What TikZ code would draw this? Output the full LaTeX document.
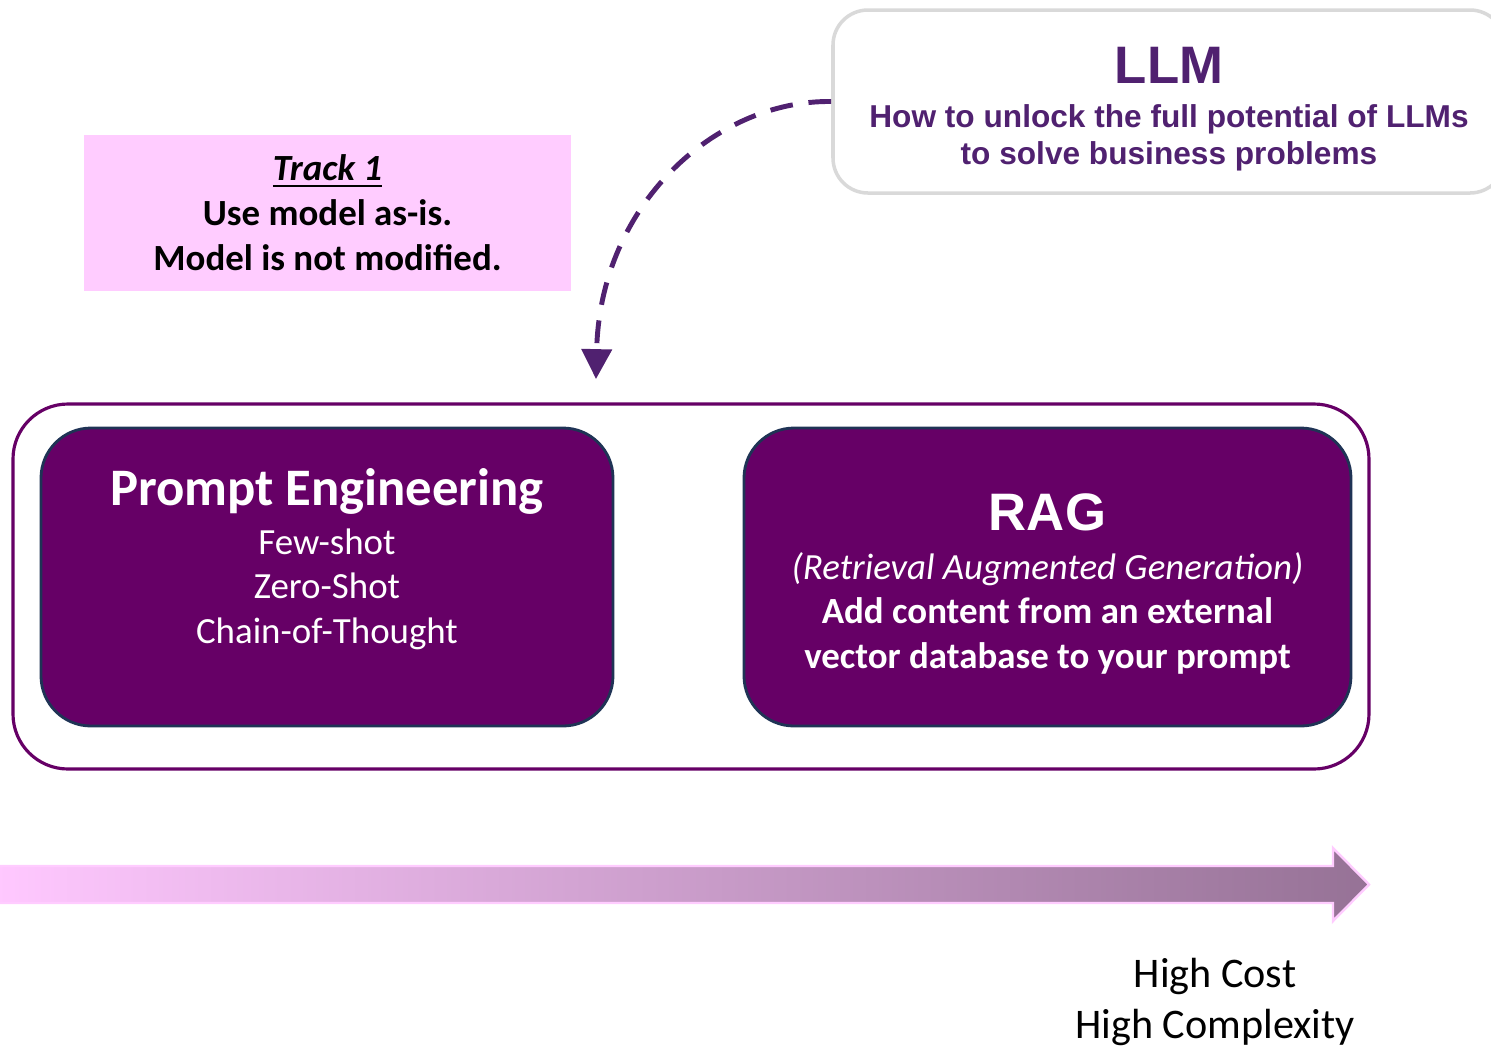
\documentclass[tikz,border=0pt]{standalone}
\usepackage{fontspec}
\setmainfont{Carlito}
\newfontfamily\arialfont{Liberation Sans}
\usepackage{tikz}
\usetikzlibrary{positioning,arrows.meta}

\definecolor{plum}{HTML}{660066}
\definecolor{navyedge}{HTML}{1F3355}
\definecolor{llmpurple}{RGB}{80,33,112}
\definecolor{lightgrey}{HTML}{D9D9D9}
\definecolor{pinkfill}{HTML}{FFCCFF}
\definecolor{pinkstart}{RGB}{255,200,255}
\definecolor{mauve}{RGB}{150,114,150}

\begin{document}
\begin{tikzpicture}[
every node/.style={align=center},
techbox/.style={
draw=navyedge,
line width=0.8pt,
fill=plum,
rounded corners=0.5cm,
text=white,
minimum height=2.98cm,
font=\fontsize{10.5}{12.7}\selectfont
},
dasharrow/.style={
-{Triangle[width=8.5pt,length=8.5pt]},
llmpurple,
line width=1.4pt,
dash pattern=on 6.5pt off 4.5pt
}
]

\useasboundingbox (0,0) rectangle (14.91,-10.47);

% Top Row
\node[
draw=lightgrey,
line width=1pt,
rounded corners=0.35cm,
minimum width=6.72cm,
minimum height=1.83cm,
text=llmpurple,
font=\arialfont\bfseries\fontsize{9}{10.5}\selectfont
] (llm) at (11.69,-1.015)
{{\fontsize{15}{18}\selectfont\rule{0pt}{14.7pt}LLM}\\[2pt]
How to unlock the full potential of LLMs\\
to solve business problems};

\node[
fill=pinkfill,
minimum width=4.87cm,
minimum height=1.56cm,
font=\bfseries\fontsize{10.5}{12.8}\selectfont
] (track) at (3.275,-2.13)
{\underline{\textit{Track 1}}\\
Use model as-is.\\
Model is not modified.};

\coordinate (tip) at (5.96,-3.79);

% Middle Row
\node[
draw=plum,
line width=0.9pt,
rounded corners=0.55cm,
minimum width=13.56cm,
minimum height=3.65cm
] (frame) at (6.91,-5.865) {};

\node[
techbox,
minimum width=5.72cm,
text depth=0.42cm
] (prompt) at (3.27,-5.77)
{{\bfseries\fontsize{15}{18}\selectfont Prompt Engineering}\\[1.2pt]
Few-shot\\
Zero-Shot\\
Chain-of-Thought};

\node[
techbox,
minimum width=6.07cm
] (rag) at (10.475,-5.77)
{{\arialfont\bfseries\fontsize{15}{18}\selectfont\rule{0pt}{14.3pt}RAG}\\[1.2pt]
\textit{(Retrieval Augmented Generation)}\\
\textbf{Add content from an external}\\
\textbf{vector database to your prompt}};

% Bottom Row
\shadedraw[
left color=pinkstart,
right color=mauve,
draw=pinkfill,
line width=0.7pt
] (-0.05,-8.66) -- (13.33,-8.66) -- (13.33,-8.48) -- (13.69,-8.845)
-- (13.33,-9.21) -- (13.33,-9.03) -- (-0.05,-9.03) -- cycle;

\node[
font=\fontsize{12}{14.5}\selectfont
] (cost) at (12.15,-10.02)
{High Cost\\
High Complexity};

% Arrows
\draw[dasharrow] (llm.west) .. controls (7.15,-1.0) and (6.0,-2.05) .. (tip);

\end{tikzpicture}
\end{document}
